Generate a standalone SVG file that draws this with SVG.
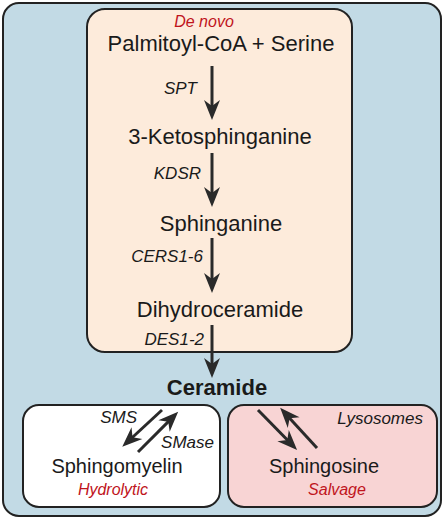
<svg xmlns="http://www.w3.org/2000/svg" width="445" height="519" viewBox="0 0 445 519">
<style>
.box{stroke:#222;stroke-width:2}
.big{font-family:"Liberation Sans",Arial,sans-serif;font-size:22px;fill:#1a1a1a;text-anchor:middle}
.mid{font-family:"Liberation Sans",Arial,sans-serif;font-size:20px;fill:#1a1a1a;text-anchor:middle}
.enz{font-family:"Liberation Sans",Arial,sans-serif;font-size:17px;font-style:italic;fill:#1a1a1a}
.red{font-family:"Liberation Sans",Arial,sans-serif;font-size:16px;font-style:italic;fill:#c0141c;text-anchor:middle}
.arr{stroke:#2a2a2a;stroke-width:3;fill:none;marker-end:url(#ah)}
</style>
<defs>
<marker id="ah" viewBox="-11 -9 22 18" refX="0" refY="0" markerWidth="22" markerHeight="18" markerUnits="userSpaceOnUse" orient="auto">
<path d="M10,0 L-10,-8 L-4,0 L-10,8 Z" fill="#2a2a2a"/>
</marker>
</defs>
<g id="cell">
<rect class="box" x="3" y="3" width="438" height="513" rx="16" fill="#c2dae5"/>
</g>
<g id="denovo">
<rect class="box" x="87" y="9" width="265" height="343" rx="18" fill="#fdebdb"/>
<text class="red" x="204" y="27">De novo</text>
</g>
<g id="palmitoyl"><text class="big" x="221" y="51">Palmitoyl-CoA + Serine</text></g>
<g id="keto"><text class="big" x="220" y="144">3-Ketosphinganine</text></g>
<g id="sphinganine"><text class="big" x="221" y="231">Sphinganine</text></g>
<g id="dihydroceramide"><text class="big" x="220" y="317">Dihydroceramide</text></g>
<g id="ceramide"><text class="big" x="217" y="395" font-weight="bold">Ceramide</text></g>
<g id="hydrolytic">
<rect class="box" x="23" y="405" width="197" height="102" rx="16" fill="#ffffff"/>
<text class="mid" x="117" y="473">Sphingomyelin</text>
<text class="red" x="113" y="495">Hydrolytic</text>
</g>
<g id="salvage">
<rect class="box" x="228" y="405" width="209" height="102" rx="16" fill="#f8d4d4"/>
<text class="mid" x="324" y="473">Sphingosine</text>
<text class="red" x="337" y="495">Salvage</text>
<text class="enz" x="423" y="424" font-size="16" text-anchor="end">Lysosomes</text>
</g>
<g id="connectors">
<line class="arr" x1="212" y1="66" x2="212" y2="110"/>
<line class="arr" x1="212" y1="153" x2="212" y2="197"/>
<line class="arr" x1="212" y1="238" x2="212" y2="283"/>
<line class="arr" x1="212" y1="325" x2="212" y2="368"/>
<line class="arr" x1="162" y1="410" x2="129.6" y2="440"/>
<line class="arr" x1="138" y1="452" x2="171.1" y2="418.9"/>
<line class="arr" x1="258" y1="410" x2="290.1" y2="442.8"/>
<line class="arr" x1="317" y1="448" x2="286.9" y2="415.2"/>
</g>
<g id="labels">
<text class="enz" x="197" y="94" text-anchor="end">SPT</text>
<text class="enz" x="201" y="179" text-anchor="end">KDSR</text>
<text class="enz" x="203" y="262" text-anchor="end">CERS1-6</text>
<text class="enz" x="204" y="345" text-anchor="end">DES1-2</text>
<text class="enz" x="137" y="423" text-anchor="end">SMS</text>
<text class="enz" x="214" y="448" text-anchor="end">SMase</text>
</g>
</svg>
